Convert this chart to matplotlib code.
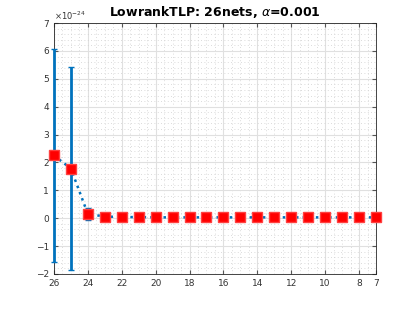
import matplotlib
matplotlib.use("Agg")
import matplotlib.pyplot as plt
import numpy as np
from matplotlib.ticker import MultipleLocator

# number of nets on x (reversed axis)
nets = [26, 25, 24, 23, 22, 21, 20, 19, 18, 17, 16, 15, 14, 13, 12, 11, 10, 9, 8, 7]
# mean values (x 1e-24)
means = [2.25, 1.78, 0.15, 0.06, 0.04, 0.04, 0.03, 0.03, 0.03, 0.03,
         0.03, 0.03, 0.03, 0.03, 0.03, 0.03, 0.03, 0.03, 0.03, 0.03]
# error bar half-widths (x 1e-24)
errs = [3.83, 3.65, 0.22, 0.03, 0.02, 0.02, 0.01, 0.01, 0.01, 0.01,
        0.01, 0.01, 0.01, 0.01, 0.01, 0.01, 0.01, 0.01, 0.01, 0.01]
xticks = [26, 24, 22, 20, 18, 16, 14, 12, 10, 8, 7]


def main():
    fig = plt.figure(figsize=(4.15, 3.12), dpi=100)
    ax = fig.add_axes([0.13, 0.122, 0.776, 0.804])

    cont = ax.errorbar(nets, means, yerr=errs, color="#0072BD", linestyle=":",
                       linewidth=1.8, capsize=2.5, capthick=1.2, elinewidth=2,
                       marker="s", markersize=6.5, markerfacecolor="#ff0000",
                       markeredgecolor="#ff4040", markeredgewidth=1, zorder=3)
    for art in cont.get_children():
        art.set_clip_on(False)

    ax.set_xlim(26, 7)
    ax.set_ylim(-2, 7)
    ax.set_xticks(xticks)
    ax.set_yticks(range(-2, 8))
    ax.xaxis.set_minor_locator(MultipleLocator(0.5))
    ax.yaxis.set_minor_locator(MultipleLocator(0.2))

    ax.grid(which="major", color="#e0e0e0", linewidth=0.8)
    ax.grid(which="minor", color="#cfcfcf", linestyle=(0, (1, 3)), linewidth=0.6)
    ax.set_axisbelow(True)

    ax.tick_params(which="both", direction="in", top=True, right=True,
                   labelsize=6.5, labelcolor="#333333", color="#555555")
    ax.tick_params(which="minor", length=0)
    ax.tick_params(which="major", length=3)
    for s in ax.spines.values():
        s.set_color("#262626")
        s.set_linewidth(0.6)

    ax.text(0.0, 1.005, r"$\times10^{-24}$", transform=ax.transAxes,
            fontsize=6, color="#333333", ha="left", va="bottom")
    ax.set_title(r"LowrankTLP: 26nets, $\alpha$=0.001", fontsize=9,
                 fontweight="bold", pad=5)

    fig.savefig("out.png", dpi=100)


if __name__ == "__main__":
    main()
